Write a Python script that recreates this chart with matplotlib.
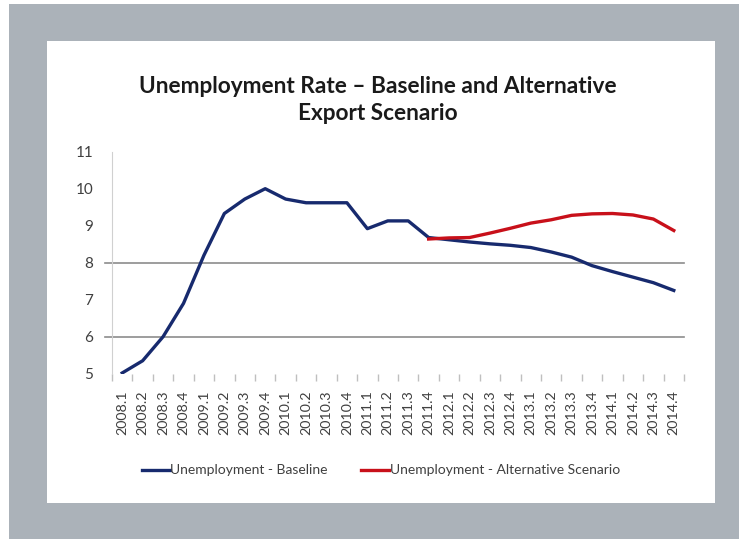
import matplotlib
matplotlib.use("Agg")
import matplotlib.pyplot as plt
from matplotlib.patches import Rectangle

plt.rcParams['font.family'] = ['Lato', 'DejaVu Sans']

quarters = ["2008.1", "2008.2", "2008.3", "2008.4", "2009.1", "2009.2", "2009.3", "2009.4",
            "2010.1", "2010.2", "2010.3", "2010.4", "2011.1", "2011.2", "2011.3", "2011.4",
            "2012.1", "2012.2", "2012.3", "2012.4", "2013.1", "2013.2", "2013.3", "2013.4",
            "2014.1", "2014.2", "2014.3", "2014.4"]
baseline = [5.02, 5.35, 6.0, 6.9, 8.2, 9.33, 9.72, 10.0, 9.72, 9.62, 9.62, 9.62, 8.92, 9.13,
            9.13, 8.68, 8.62, 8.56, 8.51, 8.47, 8.41, 8.29, 8.15, 7.92, 7.76, 7.61, 7.46, 7.25]
alt_start = 15
alternative = [8.64, 8.67, 8.68, 8.8, 8.93, 9.07, 9.16, 9.28, 9.32, 9.33, 9.29, 9.18, 8.87]
gridlines = [6, 8]
yticks = [5, 6, 7, 8, 9, 10, 11]

W, H = 739, 539
fig = plt.figure(figsize=(W / 100, H / 100), dpi=100)
fig.patch.set_facecolor('white')
fig.patches.append(Rectangle((9 / W, 0), 1 - 9 / W, 1 - 4 / H, transform=fig.transFigure,
                             facecolor='#ABB2B9', edgecolor='none', zorder=-10))
fig.patches.append(Rectangle((47 / W, 1 - 503 / H), 668 / W, 462 / H, transform=fig.transFigure,
                             facecolor='white', edgecolor='none', zorder=-9))

ax = fig.add_axes([112 / W, 1 - 373.7 / H, 572 / W, 222 / H])
ax.set_facecolor('none')
x = list(range(len(quarters)))
for g in gridlines:
    ax.axhline(g, xmin=-0.012, xmax=1, color='#8C8C8C', lw=1.2, zorder=1, clip_on=False)
ax.plot(x, baseline, color='#172A6E', lw=2.4, solid_joinstyle='round', zorder=3,
        label='Unemployment - Baseline')
ax.plot(x[alt_start:], alternative, color='#C8101A', lw=2.4, solid_joinstyle='round', zorder=4,
        label='Unemployment - Alternative Scenario')

ax.set_xlim(-0.5, len(quarters) - 0.5)
ax.set_ylim(5, 11)
ax.set_yticks(yticks)
ax.set_yticklabels([str(v) for v in yticks])
ax.set_xticks(x)
ax.set_xticklabels(quarters, rotation=90)
ax.set_xticks([i + 0.5 for i in range(-1, len(quarters))], minor=True)
ax.tick_params(axis='x', which='major', length=0, pad=12, labelsize=10.3, labelcolor='#404040')
ax.tick_params(axis='x', which='minor', length=5, color='#BFBFBF', width=1)
ax.tick_params(axis='y', length=0, pad=13.5, labelsize=11, labelcolor='#404040')
for s in ['top', 'right', 'bottom']:
    ax.spines[s].set_visible(False)
ax.spines['left'].set_color('#D0D0D0')

fig.text(378 / W, 1 - 100 / H, 'Unemployment Rate – Baseline and Alternative\nExport Scenario',
         ha='center', va='center', fontsize=16.3, fontweight='bold', color='#1A1A1A',
         linespacing=1.3)

leg = fig.legend(loc='center', bbox_to_anchor=(381 / W, 1 - 470.5 / H), ncol=2, frameon=False,
                 fontsize=10, handlelength=2.0, columnspacing=2.4, handletextpad=0.05)
for t in leg.get_texts():
    t.set_color('#404040')

fig.savefig('out.png', dpi=100)
